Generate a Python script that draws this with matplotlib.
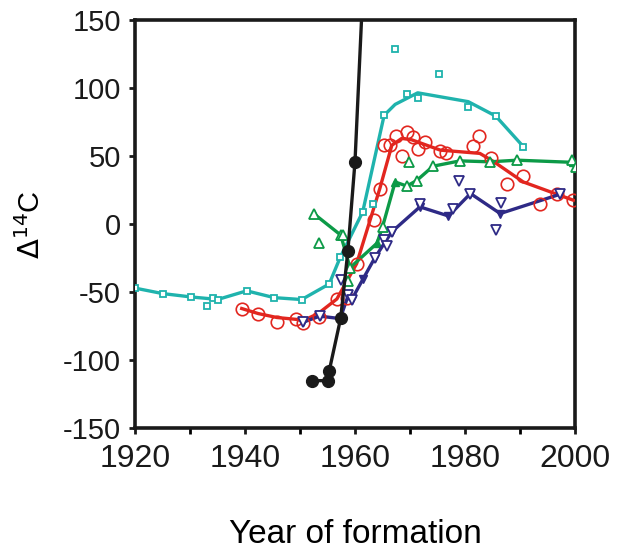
import matplotlib.pyplot as plt
from matplotlib.ticker import MultipleLocator

plt.rcParams['font.family'] = ['Liberation Sans', 'DejaVu Sans']
plt.rcParams['axes.unicode_minus'] = False

# bomb curve (atmosphere)
atm_year = [1952.1, 1955.0, 1955.3, 1957.4, 1958.7, 1960.0, 1963.0]
atm_val = [-115, -115, -108, -69, -20, 46, 310]

# teal series
teal_line_year = [1920, 1925, 1930.2, 1934.2, 1935, 1940.3, 1945.3, 1950.3, 1955.3, 1957.3, 1961.4,
                  1965.3, 1967.3, 1971.4, 1980.6, 1985.6, 1990.6]
teal_line_val = [-47, -51, -53.5, -55, -55.4, -49, -54, -55.4, -44, -24.5, 9,
                 80, 88, 96.5, 90, 79.4, 57]
teal_pts_year = [1920, 1925, 1930.2, 1933.1, 1934.2, 1935, 1940.3, 1945.3, 1950.3, 1955.3, 1957.3,
                 1961.5, 1963.2, 1965.3, 1967.3, 1969.5, 1971.4, 1975.3, 1980.6, 1985.6, 1990.6]
teal_pts_val = [-47, -51, -53.5, -60, -54.6, -55.4, -49, -54, -55.4, -44, -24.5,
                9, 14.7, 80, 128.7, 95.3, 92.4, 110, 86, 79.4, 57]

# red series
red_line_year = [1939.4, 1942.4, 1945.8, 1949.4, 1950.5, 1953.3, 1956.7, 1960.3, 1964.5, 1966.7,
                 1968.5, 1970.3, 1975.5, 1982.7, 1985.2, 1990.6, 1996.7, 1999.7]
red_line_val = [-62, -65.7, -68.6, -70, -71, -65.7, -55, -29, 26, 58,
                63, 62, 54.4, 52, 46, 31, 22, 17.6]
red_pts_year = [1939.4, 1942.4, 1945.8, 1949.3, 1950.5, 1953.5, 1956.7, 1958.6, 1960.4, 1963.5,
                1964.5, 1965.3, 1966.4, 1967.4, 1969.5, 1970.5, 1968.6, 1971.5, 1972.7, 1975.5,
                1976.5, 1981.5, 1982.6, 1984.7, 1987.7, 1990.6, 1993.6, 1996.8, 1999.7]
red_pts_val = [-62, -65.7, -71.8, -70, -73, -68, -55, -54, -29, 3,
               26, 58, 58, 64.7, 67.9, 63.8, 50, 55, 60, 53.4,
               52.4, 57.6, 64.7, 48.3, 29.4, 35.5, 14.7, 22, 17.6]

# green series
green_line_year = [1952.6, 1957.4, 1959.1, 1964.0, 1965.0, 1967.3, 1969.4, 1971.2, 1974.2, 1979.1,
                   1984.5, 1989.5, 1999.7]
green_line_val = [7.4, -8, -32, -14, -2, 31, 28, 32, 42.6, 46.5, 45.8, 47, 45.4]
green_pts_year = [1952.6, 1953.5, 1957.4, 1957.8, 1958.8, 1959.1, 1965.0, 1969.9, 1969.4, 1971.2,
                  1974.2, 1979.1, 1984.5, 1989.5, 1999.5, 2000.2]
green_pts_val = [7.4, -13.7, -8, -8, -42, -32, -2, 45.8, 28, 32,
                 42.6, 46.5, 45.8, 47, 47.5, 41.7]

# navy series
navy_line_year = [1950.6, 1953.6, 1957.3, 1958.8, 1959.4, 1961.5, 1963.6, 1966.7, 1971.8, 1977.0,
                  1981.0, 1986.4, 1997.3]
navy_line_val = [-72, -67.6, -69.4, -52, -55.4, -40, -24.8, -5.6, 12.7, 6, 22.5, 7.8, 22]
navy_pts_year = [1950.6, 1953.6, 1957.4, 1958.8, 1959.4, 1963.6, 1965.3, 1965.9, 1966.7, 1971.8,
                 1977.9, 1979.0, 1981.0, 1986.5, 1985.6, 1997.3]
navy_pts_val = [-72, -67.6, -41, -52, -55.4, -24.8, -12, -16, -5.6, 15,
                11.5, 31.6, 22.5, 15.7, -4.4, 22]

teal = '#1fb3ad'
red = '#e2261f'
green = '#0c9a47'
navy = '#2e2a86'
black = '#1a1a1a'

fig = plt.figure(figsize=(6.26, 5.5), dpi=100)
ax = fig.add_axes([0.2157, 0.2213, 0.7028, 0.7423])

lw = 2.4
ax.plot(teal_line_year, teal_line_val, color=teal, lw=lw, zorder=3)
ax.plot(teal_pts_year, teal_pts_val, ls='none', marker='s', ms=4.5, mfc='white', mec=teal, mew=1.3, zorder=4)

ax.plot(red_line_year, red_line_val, color=red, lw=lw, zorder=3)
ax.plot(red_pts_year, red_pts_val, ls='none', marker='o', ms=9, mfc='none', mec=red, mew=1.2, zorder=4)

ax.plot(green_line_year, green_line_val, color=green, lw=lw, marker='^', ms=6, zorder=3)
ax.plot(green_pts_year, green_pts_val, ls='none', marker='^', ms=7, mfc='white', mec=green, mew=1.3, zorder=4)

ax.plot(navy_line_year, navy_line_val, color=navy, lw=lw, marker='v', ms=6, zorder=3)
ax.plot(navy_pts_year, navy_pts_val, ls='none', marker='v', ms=7, mfc='white', mec=navy, mew=1.3, zorder=4)

ax.plot(atm_year, atm_val, color=black, lw=lw, marker='o', ms=8.5, zorder=5)

ax.set_xlim(1920, 2000)
ax.set_ylim(-150, 150)
ax.xaxis.set_major_locator(MultipleLocator(20))
ax.xaxis.set_minor_locator(MultipleLocator(10))
ax.yaxis.set_major_locator(MultipleLocator(50))

for s in ax.spines.values():
    s.set_linewidth(2.6)
    s.set_color(black)
ax.tick_params(axis='both', which='major', direction='out', length=4, width=2, pad=6, colors=black)
ax.tick_params(axis='x', which='major', labelsize=23, pad=7)
ax.tick_params(axis='y', which='major', labelsize=21)
ax.tick_params(axis='x', which='minor', direction='out', length=4, width=2)

ax.set_xlabel('Year of formation', fontsize=24, labelpad=33)
ax.set_ylabel(r'$\Delta$$^{14}$C', fontsize=21, labelpad=12)

fig.savefig('out.png', dpi=100)
